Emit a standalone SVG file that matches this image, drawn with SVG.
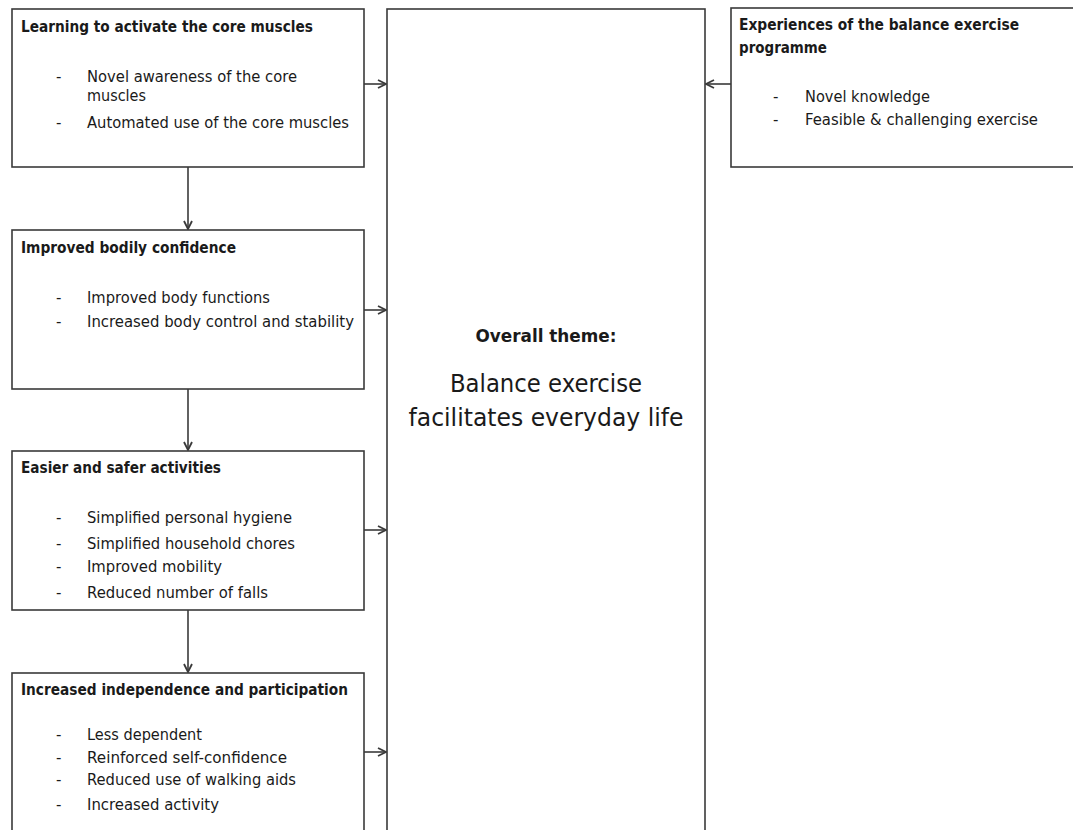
<svg xmlns="http://www.w3.org/2000/svg" width="1073" height="830" viewBox="0 0 1073 830">
<defs>
<style>
.box{fill:#fff;stroke:#3a3a3a;stroke-width:1.6}
.t{font-family:"DejaVu Sans","Liberation Sans",sans-serif;font-size:15px;font-weight:bold;fill:#1a1a1a}
.i{font-family:"DejaVu Sans","Liberation Sans",sans-serif;font-size:15px;fill:#1a1a1a}
.c{stroke:#3a3a3a;stroke-width:1.6;fill:none}
.h{font-size:17px}
.big{font-size:25px}
</style>
<marker id="ah" viewBox="0 0 10 10" refX="9" refY="5" markerWidth="10" markerHeight="10" markerUnits="userSpaceOnUse" orient="auto">
<path d="M1,1 L9,5 L1,9" fill="none" stroke="#3a3a3a" stroke-width="1.8"/>
</marker>
</defs>
<rect width="1073" height="830" fill="#fff"/>

<g id="center">
<rect class="box" x="387" y="9" width="318" height="840"/>
<text class="t h" x="546" y="342" text-anchor="middle" textLength="141" lengthAdjust="spacingAndGlyphs">Overall theme:</text>
<text class="i big" x="546" y="392" text-anchor="middle" textLength="192" lengthAdjust="spacingAndGlyphs">Balance exercise</text>
<text class="i big" x="546" y="426" text-anchor="middle" textLength="275" lengthAdjust="spacingAndGlyphs">facilitates everyday life</text>
</g>

<g id="box1">
<rect class="box" x="12" y="9" width="352" height="158"/>
<text class="t" x="21" y="32" textLength="292" lengthAdjust="spacingAndGlyphs">Learning to activate the core muscles</text>
<text class="i" x="56" y="82">-</text>
<text class="i" x="87" y="82" textLength="210" lengthAdjust="spacingAndGlyphs">Novel awareness of the core</text>
<text class="i" x="87" y="101" textLength="59" lengthAdjust="spacingAndGlyphs">muscles</text>
<text class="i" x="56" y="128">-</text>
<text class="i" x="87" y="128" textLength="262" lengthAdjust="spacingAndGlyphs">Automated use of the core muscles</text>
</g>

<g id="box2">
<rect class="box" x="12" y="230" width="352" height="159"/>
<text class="t" x="21" y="253" textLength="215" lengthAdjust="spacingAndGlyphs">Improved bodily confidence</text>
<text class="i" x="56" y="303">-</text>
<text class="i" x="87" y="303" textLength="183" lengthAdjust="spacingAndGlyphs">Improved body functions</text>
<text class="i" x="56" y="327">-</text>
<text class="i" x="87" y="327" textLength="267" lengthAdjust="spacingAndGlyphs">Increased body control and stability</text>
</g>

<g id="box3">
<rect class="box" x="12" y="451" width="352" height="159"/>
<text class="t" x="21" y="473" textLength="200" lengthAdjust="spacingAndGlyphs">Easier and safer activities</text>
<text class="i" x="56" y="523">-</text>
<text class="i" x="87" y="523" textLength="205" lengthAdjust="spacingAndGlyphs">Simplified personal hygiene</text>
<text class="i" x="56" y="549">-</text>
<text class="i" x="87" y="549" textLength="208" lengthAdjust="spacingAndGlyphs">Simplified household chores</text>
<text class="i" x="56" y="572">-</text>
<text class="i" x="87" y="572" textLength="135" lengthAdjust="spacingAndGlyphs">Improved mobility</text>
<text class="i" x="56" y="598">-</text>
<text class="i" x="87" y="598" textLength="181" lengthAdjust="spacingAndGlyphs">Reduced number of falls</text>
</g>

<g id="box4">
<rect class="box" x="12" y="673" width="352" height="180"/>
<text class="t" x="21" y="695" textLength="327" lengthAdjust="spacingAndGlyphs">Increased independence and participation</text>
<text class="i" x="56" y="740">-</text>
<text class="i" x="87" y="740" textLength="115" lengthAdjust="spacingAndGlyphs">Less dependent</text>
<text class="i" x="56" y="763">-</text>
<text class="i" x="87" y="763" textLength="200" lengthAdjust="spacingAndGlyphs">Reinforced self-confidence</text>
<text class="i" x="56" y="785">-</text>
<text class="i" x="87" y="785" textLength="209" lengthAdjust="spacingAndGlyphs">Reduced use of walking aids</text>
<text class="i" x="56" y="810">-</text>
<text class="i" x="87" y="810" textLength="132" lengthAdjust="spacingAndGlyphs">Increased activity</text>
</g>

<g id="boxR">
<rect class="box" x="731" y="8" width="350" height="159"/>
<text class="t" x="739" y="30" textLength="280" lengthAdjust="spacingAndGlyphs">Experiences of the balance exercise</text>
<text class="t" x="739" y="53" textLength="88" lengthAdjust="spacingAndGlyphs">programme</text>
<text class="i" x="773" y="102">-</text>
<text class="i" x="805" y="102" textLength="125" lengthAdjust="spacingAndGlyphs">Novel knowledge</text>
<text class="i" x="773" y="125">-</text>
<text class="i" x="805" y="125" textLength="233" lengthAdjust="spacingAndGlyphs">Feasible &amp; challenging exercise</text>
</g>

<g id="connectors">
<line class="c" x1="188" y1="167" x2="188" y2="229" marker-end="url(#ah)"/>
<line class="c" x1="188" y1="389" x2="188" y2="450" marker-end="url(#ah)"/>
<line class="c" x1="188" y1="610" x2="188" y2="672" marker-end="url(#ah)"/>
<line class="c" x1="364" y1="84" x2="386" y2="84" marker-end="url(#ah)"/>
<line class="c" x1="364" y1="310" x2="386" y2="310" marker-end="url(#ah)"/>
<line class="c" x1="364" y1="530" x2="386" y2="530" marker-end="url(#ah)"/>
<line class="c" x1="364" y1="752" x2="386" y2="752" marker-end="url(#ah)"/>
<line class="c" x1="731" y1="84" x2="706" y2="84" marker-end="url(#ah)"/>
</g>
</svg>
